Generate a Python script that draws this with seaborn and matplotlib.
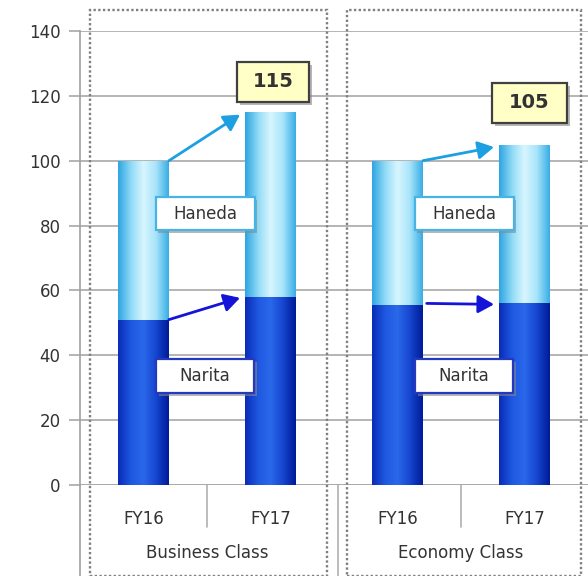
import numpy as np
import pandas as pd
import seaborn as sns
import matplotlib.pyplot as plt
from matplotlib.patches import Rectangle
from matplotlib.colors import LinearSegmentedColormap
import matplotlib.patheffects as pe
from matplotlib.transforms import blended_transform_factory

# Passenger index by cabin class and airport (FY16 = 100)
classes = ["Business Class", "Economy Class"]
years = ["FY16", "FY17"]
total = [100, 115, 100, 105]
narita = [51, 58, 55.5, 56]
totals_label = ["115", "105"]

df = pd.DataFrame({
    "slot": [f"{c} {y}" for c in classes for y in years],
    "year": [y for c in classes for y in years],
    "total": total,
    "narita": narita,
})

sns.set_theme(style="white")
plt.rcParams["font.family"] = ["DejaVu Sans"]

W, H = 588, 576
fig = plt.figure(figsize=(W / 100, H / 100), dpi=100)
ax = fig.add_axes([80 / W, (H - 485) / H, (W - 80) / W, (485 - 31) / H])

sns.barplot(data=df, x="slot", y="total", color="#7FD0F0", width=0.4,
            ax=ax, saturation=1, zorder=2)
sns.barplot(data=df, x="slot", y="narita", color="#1040D0", width=0.4,
            ax=ax, saturation=1, zorder=2)

# horizontal gradients to give the bars a cylindrical look
light = LinearSegmentedColormap.from_list(
    "light", ["#2FA6E2", "#8FDAF6", "#D8F6FF", "#A8E4FA", "#3AAEE6"])
dark = LinearSegmentedColormap.from_list(
    "dark", ["#0A2CB8", "#1E58E0", "#2A68EA", "#1646D0", "#001C98"])
grad = np.linspace(0, 1, 64).reshape(1, -1)
n = len(df)
for i, p in enumerate(ax.patches):
    x0, y0 = p.get_x(), p.get_y()
    w, h = p.get_width(), p.get_height()
    if h <= 0:
        continue
    cmap = light if i < n else dark
    im = ax.imshow(grad, cmap=cmap, aspect="auto",
                   extent=(x0, x0 + w, y0, y0 + h), zorder=2.5 + (i >= n) * 0.1)
    im.set_clip_path(p)
    p.set_edgecolor("none")

ax.set_xlim(-0.5, 3.5)
ax.set_ylim(0, 140)
ax.set_yticks(range(0, 141, 20))
ax.grid(axis="y", color="#A8A8A8", linewidth=1.2, zorder=0)
ax.set_axisbelow(True)
for s in ["top", "right", "bottom"]:
    ax.spines[s].set_visible(False)
ax.spines["left"].set_color("#A0A0A0")
ax.spines["left"].set_linewidth(1.2)
ax.spines["left"].set_bounds(0, 140)
ax.tick_params(axis="y", length=8, color="#A8A8A8", width=1.2,
               labelsize=12, labelcolor="#333333", pad=6, left=True)
ax.set_xticks(range(n))
ax.set_xticklabels(df["year"], fontsize=12, color="#333333")
ax.tick_params(axis="x", length=0, pad=18)
ax.set_xlabel("")
ax.set_ylabel("")

# baseline and category separators
ax.axhline(0, color="#A8A8A8", linewidth=1.2, zorder=1)
tr = blended_transform_factory(ax.transData, fig.transFigure)
for xs in [0.5, 2.5]:
    ax.plot([xs, xs], [(H - 485) / H, (H - 527) / H], transform=tr,
            color="#B0B0B0", linewidth=1.2, clip_on=False)
ax.plot([1.5 + 0.03, 1.5 + 0.03], [(H - 485) / H, 0], transform=tr,
        color="#B0B0B0", linewidth=1.2, clip_on=False)
ax.plot([-0.5, -0.5], [(H - 485) / H, 0], transform=tr,
        color="#A0A0A0", linewidth=1.2, clip_on=False)

for k, c in enumerate(classes):
    ax.text(2 * k + 0.5, (H - 553) / H, c, transform=tr, ha="center",
            va="center", fontsize=12, color="#333333")

# dotted frames around each class group
for x0, x1 in [(90, 327), (347, 581)]:
    fig.add_artist(Rectangle((x0 / W, 0), (x1 - x0) / W, (H - 10) / H,
                             transform=fig.transFigure, fill=False,
                             edgecolor="#808080", linewidth=1.7,
                             linestyle=(0, (1, 1.0)), zorder=5))

shadow = [pe.withSimplePatchShadow(offset=(2, -2), shadow_rgbFace="#888888",
                                   alpha=0.6)]

def label_box(xc, yc, wpx, hpx, text, edge, face="white", size=12,
              weight="normal"):
    # fixed-size box in pixels, centred on a data position
    dx = wpx / 127.0
    dy = hpx * 140.0 / 454.0
    r = Rectangle((xc - dx / 2, yc - dy / 2), dx, dy, fc=face, ec=edge,
                  lw=1.6, zorder=8, clip_on=False)
    r.set_path_effects(shadow)
    ax.add_patch(r)
    ax.text(xc, yc, text, ha="center", va="center", fontsize=size,
            fontweight=weight, color="#333333", zorder=9)

for k in range(2):
    xm = 2 * k + 0.5 - 0.015 + 0.04 * k
    label_box(xm, 83.7, 99, 33, "Haneda", "#48B4E6")
    label_box(xm, 33.6, 98, 34, "Narita", "#2438C0")

label_box(1.02, 124.3, 72, 40, totals_label[0], "#404040", face="#FFFFC6",
          size=14, weight="bold")
label_box(3.04, 117.8, 75, 40, totals_label[1], "#404040", face="#FFFFC6",
          size=14, weight="bold")

# growth arrows from FY16 to FY17
arrow_light = dict(arrowstyle="-|>,head_length=0.8,head_width=0.45",
                   color="#1CA0E2", lw=2, shrinkA=0, shrinkB=0)
arrow_dark = dict(arrowstyle="-|>,head_length=0.8,head_width=0.45",
                  color="#1414D8", lw=2, shrinkA=0, shrinkB=0)
for k in range(2):
    i0, i1 = 2 * k, 2 * k + 1
    ax.annotate("", xy=(i1 - 0.24, total[i1] - 0.8), xytext=(i0 + 0.2, total[i0]),
                arrowprops=arrow_light, zorder=7)
    ax.annotate("", xy=(i1 - 0.24, narita[i1] - 0.3),
                xytext=(i0 + 0.2 + 0.03 * k, narita[i0] + 0.5 * k),
                arrowprops=arrow_dark, zorder=7)

fig.savefig("out.png", dpi=100)
